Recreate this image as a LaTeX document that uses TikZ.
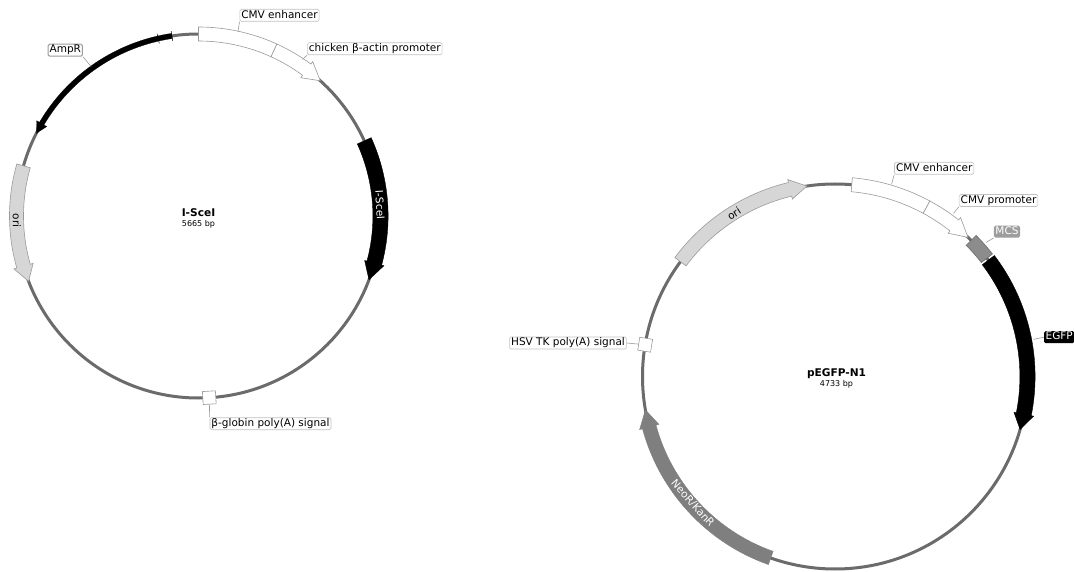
\documentclass[tikz,border=0pt]{standalone}
\usepackage{fontspec}
\setmainfont{DejaVu Sans}
\usepackage{tikz}
\definecolor{ringgray}{HTML}{6B6B6B}
\definecolor{edgegray}{HTML}{9A9A9A}
\definecolor{origray}{HTML}{D6D6D6}
\definecolor{neogray}{HTML}{7F7F7F}
\definecolor{mcsgray}{HTML}{8C8C8C}
\tikzset{
  ring/.style={draw=ringgray,line width=3pt},
  feature/.style={draw=edgegray,line width=0.6pt},
  solidblack/.style={draw=black,fill=black},
  leader/.style={draw=edgegray,line width=0.6pt},
  maplabel/.style={draw=edgegray!60,line width=0.6pt,fill=white,rounded corners=1.5pt,inner xsep=1.5pt,inner ysep=0.8pt,
    text height=8pt,text depth=2.4pt,font=\fontsize{10.5}{12}\selectfont},
  sitebox/.style={draw=edgegray,line width=0.6pt,fill=white,minimum size=13pt,inner sep=0pt},
  barlabel/.style={inner sep=0pt,font=\fontsize{10.5}{12}\selectfont},
  mapname/.style={inner sep=0pt,font=\fontsize{10.6}{12}\selectfont\bfseries},
  mapsize/.style={inner sep=0pt,font=\fontsize{8}{9}\selectfont}
}
% #1 style, #2 radius, #3 tail angle, #4 head base angle, #5 tip angle, #6 half band, #7 half head
\newcommand{\featarrow}[7][]{
  \pgfmathsetmacro{\outerr}{#2+#6}\pgfmathsetmacro{\innerr}{#2-#6}
  \pgfmathsetmacro{\flareo}{#2+#7}\pgfmathsetmacro{\flarei}{#2-#7}
  \path[#1] (#3:\outerr) arc[start angle=#3,end angle=#4,radius=\outerr] -- (#4:\flareo) -- (#5:#2)
    -- (#4:\flarei) -- (#4:\innerr) arc[start angle=#4,end angle=#3,radius=\innerr] -- cycle;
}
% #1 style, #2 radius, #3 start angle, #4 end angle, #5 half band
\newcommand{\featblock}[5][]{
  \pgfmathsetmacro{\outerr}{#2+#5}\pgfmathsetmacro{\innerr}{#2-#5}
  \path[#1] (#3:\outerr) arc[start angle=#3,end angle=#4,radius=\outerr] -- (#4:\innerr)
    arc[start angle=#4,end angle=#3,radius=\innerr] -- cycle;
}
\begin{document}
\begin{tikzpicture}[x=1pt,y=1pt]
\useasboundingbox (0,0) rectangle (1074,571);
% left map:
\begin{scope}[shift={(198.5,355)}]
\path[ring] (0,0) circle[radius=182];
\featarrow[solidblack,line width=0.2pt]{182}{98.4}{149.5}{153}{2.6}{5.8}
\draw[black,line width=0.5pt] (98.4:177) -- (98.4:187);
\draw[black,line width=0.5pt] (102.8:177) -- (102.8:187);
\featblock[feature,fill=white]{182}{90}{65.5}{7}
\featarrow[feature,fill=white]{182}{65.5}{53.5}{48}{7}{10}
\featarrow[solidblack]{182}{24.4}{-15}{-20.5}{7.6}{10}
\featarrow[feature,fill=origray]{182}{164}{196}{201}{7}{10}
\node[sitebox,rotate=3.4] (bglobinbox) at (-86.6:182) {};
\node[mapname] (leftname) at (0,3) {I-SceI};
\node[mapsize] (leftsize) at (0,-8) {5665 bp};
\node[barlabel,rotate=-90] (leftori) at (-181.8,-4.7) {ori};
\node[barlabel,rotate=-86.5,text=white] (scelabel) at (181.5,11) {I-SceI};
\coordinate (ampend) at (125.7:184);
\coordinate (enhend) at (77.9:188);
\coordinate (actend) at (56.4:188);
\end{scope}
\node[maplabel,draw=edgegray,line width=1pt] (amplabel) at (65.3,520.8) {AmpR};
\node[maplabel] (enhlabel) at (279.5,555.7) {CMV enhancer};
\node[maplabel] (actlabel) at (374.8,522.2) {chicken β-actin promoter};
\node[maplabel] (bgloblabel) at (270.5,147.3) {β-globin poly(A) signal};
\draw[leader] (amplabel.south east) -- (ampend);
\draw[leader] (enhlabel.south west) -- (enhend);
\draw[leader] (actlabel.south west) -- (actend);
\draw[leader] (bgloblabel.north west) -- (bglobinbox);
% right map:
\begin{scope}[shift={(835,194.5)}]
\path[ring] (0,0) circle[radius=192.5];
\featarrow[feature,fill=origray]{192.5}{143.4}{103.5}{98.4}{7}{10}
\featblock[feature,fill=white]{192.5}{85}{61.6}{7}
\featarrow[feature,fill=white]{192.5}{61.6}{51.7}{46.3}{7}{10}
\featblock[draw=ringgray,line width=0.6pt,fill=mcsgray]{192.5}{45}{37.9}{7}
\featarrow[solidblack]{192.5}{37.2}{-11.3}{-16}{7.6}{10}
\featarrow[draw=neogray,fill=neogray]{192.5}{250.5}{195.2}{190}{7}{10}
\node[sitebox,rotate=-9] (hsvbox) at (170.5:192.5) {};
\node[mapname] (rightname) at (1.5,3) {pEGFP-N1};
\node[mapsize] (rightsize) at (1.5,-8) {4733 bp};
\node[barlabel,rotate=32] (rightori) at (-101,163) {ori};
\node[barlabel,rotate=-48.3,text=white] (neolabel) at (-142.3,-126.8) {NeoR/KanR};
\coordinate (renhend) at (73.6:200.4);
\coordinate (cmvend) at (54:201.6);
\coordinate (mcsend) at (41.6:202);
\coordinate (egfpend) at (10.6:201.8);
\end{scope}
\node[maplabel] (renhlabel) at (934.2,402.7) {CMV enhancer};
\node[maplabel] (cmvlabel) at (998.5,370.5) {CMV promoter};
\node[maplabel,draw=none,fill=mcsgray!85,text=white] (mcslabel) at (1007,339.3) {MCS};
\node[maplabel,draw=none,fill=black,text=white] (egfplabel) at (1059.2,233.8) {EGFP};
\node[maplabel] (hsvlabel) at (568,228) {HSV TK poly(A) signal};
\draw[leader] (renhlabel.south west) -- (renhend);
\draw[leader] (cmvlabel.south west) -- (cmvend);
\draw[leader] (mcslabel.south west) -- (mcsend);
\draw[leader] (egfplabel.west) -- (egfpend);
\draw[leader] (hsvlabel.east) -- (hsvbox);
\end{tikzpicture}
\end{document}
